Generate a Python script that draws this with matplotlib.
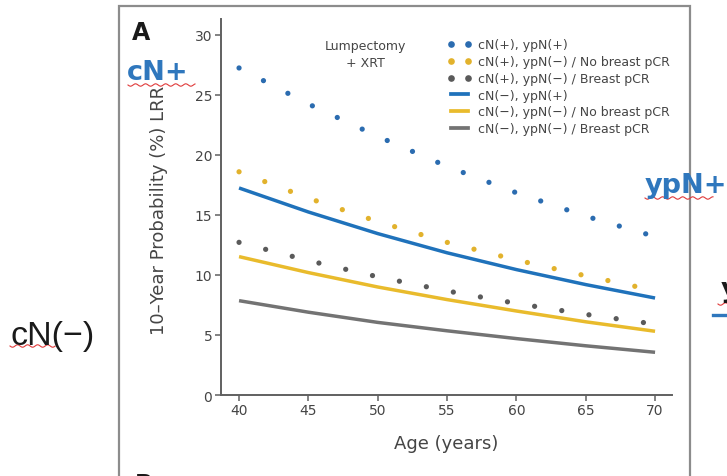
import numpy as np
import matplotlib
matplotlib.use("Agg")
import matplotlib.pyplot as plt
from matplotlib.lines import Line2D
from matplotlib.patches import Rectangle

# ---------------- data ----------------
ages = [40, 45, 50, 55, 60, 65, 70]
cnpos_yppos = [27.25, 24.25, 21.55, 19.05, 16.85, 14.9, 13.2]        # dotted blue
cnpos_ypneg_nobreast = [18.6, 16.4, 14.45, 12.72, 11.25, 9.93, 8.7]  # dotted yellow
cnpos_ypneg_breast = [12.72, 11.2, 9.85, 8.67, 7.63, 6.72, 5.9]      # dotted gray
cnneg_yppos = [17.25, 15.25, 13.45, 11.85, 10.45, 9.2, 8.08]         # solid blue
cnneg_ypneg_nobreast = [11.53, 10.2, 9.0, 7.95, 7.0, 6.1, 5.31]      # solid yellow
cnneg_ypneg_breast = [7.86, 6.9, 6.05, 5.35, 4.7, 4.1, 3.56]         # solid gray

labels = ["cN(+), ypN(+)",
          "cN(+), ypN(\u2212) / No breast pCR",
          "cN(+), ypN(\u2212) / Breast pCR",
          "cN(\u2212), ypN(+)",
          "cN(\u2212), ypN(\u2212) / No breast pCR",
          "cN(\u2212), ypN(\u2212) / Breast pCR"]
xticks = [40, 45, 50, 55, 60, 65, 70]
yticks = [0, 5, 10, 15, 20, 25, 30]

# ---------------- figure ----------------
W, H = 727, 477
fig = plt.figure(figsize=(W / 100, H / 100), dpi=100)
fig.patch.set_facecolor("white")

def fx(x):
    return x / W

def fy(y):
    return 1 - y / H

TXT = "#454545"
AXC = "#606060"
BLUE_D, YEL_D, GRAY_D = "#2b6cb0", "#e2b22c", "#5a5a5a"
BLUE_L, YEL_L, GRAY_L = "#1f72bb", "#e9bb2c", "#737373"

# panel border
fig.add_artist(Rectangle((fx(119), fy(490)), fx(690) - fx(119), fy(7) - fy(490),
                         transform=fig.transFigure, fill=False,
                         edgecolor="#8c8c8c", linewidth=1.6))

ax = fig.add_axes([fx(220.6), fy(396), fx(671.7) - fx(220.6), fy(20) - fy(396)])
ax.set_xlim(38.67, 71.2)
ax.set_ylim(0, 31.33)
for s in ["top", "right"]:
    ax.spines[s].set_visible(False)
for s in ["left", "bottom"]:
    ax.spines[s].set_color(AXC)
    ax.spines[s].set_linewidth(1.4)
ax.set_xticks(xticks)
ax.set_yticks(yticks)
ax.tick_params(direction="out", length=4, width=1.1, color=AXC,
               labelcolor=TXT, labelsize=10, pad=2)

dot_lw = 3.8
period_pt = 19.8
dot_style = (0, (0.001, period_pt / dot_lw))

for vals, c in [(cnpos_yppos, BLUE_D), (cnpos_ypneg_nobreast, YEL_D),
                (cnpos_ypneg_breast, GRAY_D)]:
    ax.plot(ages, vals, color=c, linewidth=dot_lw, linestyle=dot_style,
            dash_capstyle="round", solid_capstyle="round")

for vals, c in [(cnneg_yppos, BLUE_L), (cnneg_ypneg_nobreast, YEL_L),
                (cnneg_ypneg_breast, GRAY_L)]:
    ax.plot(ages, vals, color=c, linewidth=2.5, solid_capstyle="butt")

ax.set_xlabel("Age (years)", fontsize=13, color=TXT)
ax.xaxis.set_label_coords(0.5, (396 - 444) / 376)
ax.xaxis.label.set_va("center")
ax.set_ylabel("10\u2013Year Probability (%) LRR", fontsize=13, color=TXT)
ax.yaxis.set_label_coords((159 - 220.6) / 451.1, (396 - 210) / 376)
ax.yaxis.label.set_va("center")
ax.yaxis.label.set_ha("center")

handles = [Line2D([], [], linestyle="none", marker="o", markersize=4.8,
                  markeredgewidth=0, color=c) for c in (BLUE_D, YEL_D, GRAY_D)]
handles += [Line2D([], [], linewidth=2.7, color=c) for c in (BLUE_L, YEL_L, GRAY_L)]
leg = ax.legend(handles, labels, loc="upper left",
                bbox_to_anchor=((447 - 220.6) / 451.1, (396 - 39.5) / 376),
                frameon=False, fontsize=9, numpoints=2, handlelength=2.0,
                handletextpad=0.45, labelspacing=0.3, borderpad=0,
                borderaxespad=0)
for t in leg.get_texts():
    t.set_color(TXT)

ax.text(fx(365), fy(55), "Lumpectomy\n+ XRT", transform=fig.transFigure,
        ha="center", va="center", fontsize=9, color=TXT, linespacing=1.35)

# ---------------- slide annotations ----------------
fig.text(fx(141), fy(33), "A", ha="center", va="center", fontsize=17,
         fontweight="bold", color="#1a1a1a")
SLIDE_BLUE = "#2f77bd"
fig.text(fx(127), fy(80), "cN+", ha="left", va="baseline", fontsize=19.5,
         fontweight="bold", color=SLIDE_BLUE)
fig.text(fx(645), fy(193), "ypN+", ha="left", va="baseline", fontsize=19.5,
         fontweight="bold", color=SLIDE_BLUE)
fig.text(fx(10), fy(345), "cN(\u2212)", ha="left", va="baseline", fontsize=24.5,
         family=["Liberation Sans", "DejaVu Sans"], color="#1a1a1a")
fig.text(fx(721), fy(297), "y", ha="left", va="baseline", fontsize=19.5,
         fontweight="bold", color="#1a1a1a")
fig.text(fx(135), fy(473), "B", ha="left", va="top", fontsize=17,
         fontweight="bold", color="#1a1a1a")
fig.add_artist(Line2D([fx(713), fx(730)], [fy(316), fy(316)],
                      transform=fig.transFigure, color=SLIDE_BLUE, linewidth=2.4))

def squiggle(x0, x1, y):
    xs = np.linspace(x0, x1, int((x1 - x0) * 2))
    ys = y + 1.2 * np.sin((xs - x0) / 1.6)
    fig.add_artist(Line2D(fx(xs), fy(ys), transform=fig.transFigure,
                          color="#e03a3a", linewidth=0.8))

squiggle(128, 195, 86)
squiggle(645, 713, 199)
squiggle(10, 55, 347)
squiggle(718, 727, 305)

fig.savefig("out.png", dpi=100, facecolor="white")
